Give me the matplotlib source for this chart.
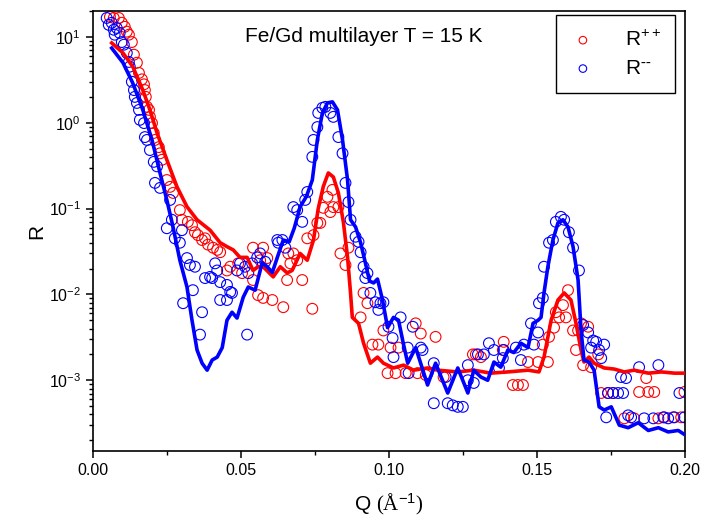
import matplotlib
matplotlib.use('Agg')
import matplotlib.pyplot as plt
from matplotlib.ticker import MultipleLocator, LogLocator, NullFormatter, FormatStrFormatter

plt.rcParams['font.family'] = ['Liberation Sans', 'DejaVu Sans']
plt.rcParams['mathtext.fontset'] = 'custom'
plt.rcParams['mathtext.rm'] = 'Liberation Serif'
plt.rcParams['mathtext.sf'] = 'Liberation Sans'
plt.rcParams['mathtext.it'] = 'Liberation Sans:italic'

# ── measured data: R++ (red) ─────────────────────────────────────────────────
q_pp = [0.0058, 0.0071, 0.0088, 0.0098, 0.0108, 0.0115, 0.0122, 0.0132, 0.0139, 0.0149,
        0.0156, 0.0166, 0.0173, 0.0176, 0.0179, 0.0183, 0.0190, 0.0193, 0.0200, 0.0206,
        0.0210, 0.0223, 0.0227, 0.0234, 0.0250, 0.0261, 0.0271, 0.0294, 0.0301, 0.0321,
        0.0335, 0.0345, 0.0355, 0.0369, 0.0379, 0.0389, 0.0406, 0.0420, 0.0430, 0.0464,
        0.0453, 0.0491, 0.0504, 0.0541, 0.0575, 0.0589, 0.0565, 0.0541, 0.0558, 0.0575,
        0.0606, 0.0643, 0.0660, 0.0677, 0.0690, 0.0667, 0.0656, 0.0707, 0.0741, 0.0724,
        0.0745, 0.0758, 0.0768, 0.0778, 0.0792, 0.0802, 0.0812, 0.0829, 0.0809, 0.0836,
        0.0853, 0.0863, 0.0904, 0.0914, 0.0927, 0.0981, 0.0944, 0.0964, 0.1005, 0.1032,
        0.0995, 0.1022, 0.1056, 0.1090, 0.1107, 0.1157, 0.1096, 0.1124, 0.1184, 0.1283,
        0.1293, 0.1310, 0.1387, 0.1384, 0.1418, 0.1435, 0.1452, 0.1469, 0.1503, 0.1536,
        0.1519, 0.1540, 0.1557, 0.1563, 0.1574, 0.1587, 0.1604, 0.1597, 0.1621, 0.1638,
        0.1648, 0.1672, 0.1631, 0.1655, 0.1682, 0.1706, 0.1716, 0.1739, 0.1756, 0.1844,
        0.1875, 0.1895, 0.1997, 0.1868, 0.1794, 0.1827, 0.1909, 0.1929, 0.1959, 0.1986]
r_pp = [17.1, 16.6, 16.6, 14.6, 13.1, 11.5, 10.6, 8.7, 6.2, 5.0,
        3.8, 3.2, 2.8, 2.4, 2.0, 1.53, 1.41, 1.17, 0.99, 0.76,
        0.63, 0.52, 0.44, 0.37, 0.215, 0.179, 0.152, 0.096, 0.074, 0.070,
        0.064, 0.053, 0.049, 0.043, 0.045, 0.038, 0.035, 0.033, 0.031, 0.021,
        0.019, 0.023, 0.0177, 0.035, 0.035, 0.0265, 0.025, 0.0147, 0.0098, 0.0091,
        0.0086, 0.0071, 0.030, 0.030, 0.025, 0.023, 0.0147, 0.0147, 0.0068, 0.045,
        0.049, 0.068, 0.068, 0.102, 0.137, 0.091, 0.104, 0.104, 0.165, 0.030,
        0.022, 0.035, 0.0054, 0.0104, 0.0079, 0.0038, 0.0026, 0.0026, 0.0024, 0.0024,
        0.00121, 0.00121, 0.00121, 0.0046, 0.0035, 0.0032, 0.00121, 0.00115, 0.00109, 0.0020,
        0.0020, 0.00186, 0.0028, 0.00225, 0.00088, 0.00088, 0.00088, 0.00163, 0.00163, 0.00163,
        0.0026, 0.0032, 0.0041, 0.0062, 0.0054, 0.0075, 0.0112, 0.0054, 0.0038, 0.0038,
        0.0046, 0.0042, 0.00225, 0.0015, 0.00142, 0.0020, 0.00071, 0.00071, 0.00071, 0.00073,
        0.00073, 0.00073, 0.00073, 0.00106, 0.00036, 0.00036, 0.00036, 0.00037, 0.00037, 0.00037]

# ── measured data: R-- (blue) ────────────────────────────────────────────────
q_mm = [0.0047, 0.0054, 0.0064, 0.0071, 0.0081, 0.0074, 0.0091, 0.0098, 0.0105, 0.0115,
        0.0122, 0.0125, 0.0132, 0.0139, 0.0142, 0.0149, 0.0156, 0.0159, 0.0173, 0.0176,
        0.0183, 0.0193, 0.0206, 0.0217, 0.0210, 0.0227, 0.0261, 0.0267, 0.0250, 0.0301,
        0.0277, 0.0294, 0.0318, 0.0328, 0.0345, 0.0305, 0.0338, 0.0369, 0.0362, 0.0413,
        0.0420, 0.0396, 0.0379, 0.0403, 0.0430, 0.0453, 0.0464, 0.0430, 0.0453, 0.0470,
        0.0487, 0.0497, 0.0514, 0.0525, 0.0521, 0.0538, 0.0555, 0.0565, 0.0582, 0.0623,
        0.0626, 0.0640, 0.0650, 0.0677, 0.0690, 0.0707, 0.0717, 0.0724, 0.0741, 0.0745,
        0.0758, 0.0761, 0.0775, 0.0785, 0.0802, 0.0812, 0.0829, 0.0843, 0.0853, 0.0863,
        0.0870, 0.0887, 0.0897, 0.0904, 0.0914, 0.0927, 0.0920, 0.0937, 0.0954, 0.0964,
        0.0971, 0.0981, 0.0998, 0.1012, 0.1015, 0.1039, 0.1063, 0.1066, 0.1080, 0.1107,
        0.1113, 0.1130, 0.1151, 0.1151, 0.1191, 0.1198, 0.1215, 0.1232, 0.1249, 0.1266,
        0.1266, 0.1286, 0.1300, 0.1320, 0.1337, 0.1354, 0.1371, 0.1387, 0.1384, 0.1428,
        0.1445, 0.1455, 0.1479, 0.1489, 0.1503, 0.1506, 0.1519, 0.1523, 0.1540, 0.1553,
        0.1563, 0.1580, 0.1591, 0.1607, 0.1621, 0.1641, 0.1655, 0.1672, 0.1689, 0.1699,
        0.1682, 0.1709, 0.1726, 0.1716, 0.1783, 0.1800, 0.1844, 0.1909, 0.1739, 0.1756,
        0.1773, 0.1790, 0.1980, 0.1733, 0.1807, 0.1817, 0.1861, 0.1892, 0.1926, 0.1942,
        0.1963, 0.1997]
r_mm = [16.6, 13.8, 14.6, 12.1, 12.7, 10.6, 11.1, 8.7, 8.1, 6.5,
        5.1, 4.5, 3.0, 2.4, 2.0, 1.70, 1.41, 1.08, 0.99, 0.68,
        0.63, 0.48, 0.35, 0.31, 0.199, 0.174, 0.126, 0.074, 0.059, 0.056,
        0.045, 0.040, 0.0265, 0.022, 0.021, 0.0079, 0.0112, 0.0062, 0.0034, 0.023,
        0.019, 0.0160, 0.0155, 0.0155, 0.0139, 0.0129, 0.0107, 0.0086, 0.0086, 0.0104,
        0.019, 0.023, 0.021, 0.0177, 0.0034, 0.023, 0.027, 0.030, 0.024, 0.043,
        0.040, 0.043, 0.035, 0.104, 0.096, 0.070, 0.126, 0.156, 0.40, 0.63,
        0.89, 1.30, 1.49, 1.53, 1.30, 1.17, 0.68, 0.44, 0.199, 0.119,
        0.074, 0.047, 0.041, 0.031, 0.021, 0.0177, 0.0155, 0.0104, 0.0081, 0.0066,
        0.0079, 0.0081, 0.0042, 0.0031, 0.00186, 0.0054, 0.0024, 0.00121, 0.0042, 0.0024,
        0.00225, 0.00121, 0.00158, 0.00054, 0.00109, 0.00054, 0.00051, 0.00049, 0.00049, 0.0015,
        0.00100, 0.00093, 0.0020, 0.0020, 0.0027, 0.00225, 0.00139, 0.00225, 0.00181, 0.0024,
        0.00172, 0.0026, 0.0046, 0.0026, 0.0036, 0.0079, 0.0091, 0.021, 0.040, 0.043,
        0.070, 0.080, 0.074, 0.053, 0.035, 0.019, 0.0044, 0.0036, 0.0029, 0.0028,
        0.0024, 0.00225, 0.0026, 0.00181, 0.00109, 0.00106, 0.00142, 0.0015, 0.00071, 0.00071,
        0.00071, 0.00071, 0.00071, 0.00037, 0.00039, 0.00037, 0.00036, 0.00036, 0.00037, 0.00036,
        0.00037, 0.00037]

# ── fits ─────────────────────────────────────────────────────────────────────
q_fit_pp = [0.0064, 0.0102, 0.0135, 0.0169, 0.0193, 0.0217, 0.0250, 0.0284, 0.0318, 0.0352,
            0.0396, 0.0430, 0.0453, 0.0474, 0.0497, 0.0521, 0.0541, 0.0558, 0.0575, 0.0609,
            0.0633, 0.0656, 0.0673, 0.0700, 0.0724, 0.0745, 0.0761, 0.0778, 0.0795, 0.0812,
            0.0829, 0.0846, 0.0860, 0.0870, 0.0876, 0.0897, 0.0914, 0.0937, 0.0961, 0.0981,
            0.1015, 0.1049, 0.1083, 0.1130, 0.1164, 0.1198, 0.1232, 0.1286, 0.1343, 0.1401,
            0.1469, 0.1506, 0.1523, 0.1547, 0.1570, 0.1591, 0.1614, 0.1631, 0.1648, 0.1658,
            0.1675, 0.1692, 0.1726, 0.1760, 0.1794, 0.1827, 0.1875, 0.1919, 0.1963, 0.2000]
r_fit_pp = [8.5, 6.5, 4.5, 2.4, 1.41, 0.76, 0.37, 0.18, 0.105, 0.074,
            0.056, 0.040, 0.036, 0.033, 0.027, 0.027, 0.019, 0.021, 0.021, 0.016,
            0.021, 0.0178, 0.019, 0.030, 0.025, 0.043, 0.10, 0.18, 0.26, 0.233,
            0.152, 0.069, 0.027, 0.0104, 0.0054, 0.0046, 0.0027, 0.00158, 0.00186, 0.00158,
            0.00139, 0.0015, 0.00131, 0.00139, 0.00131, 0.00128, 0.00125, 0.00131, 0.00121, 0.00125,
            0.00131, 0.00125, 0.00186, 0.0050, 0.0086, 0.0104, 0.0086, 0.0046, 0.00225, 0.00163,
            0.00186, 0.00158, 0.00139, 0.00135, 0.00125, 0.00131, 0.00121, 0.00125, 0.00121, 0.00121]

q_fit_mm = [0.0064, 0.0102, 0.0135, 0.0169, 0.0200, 0.0227, 0.0250, 0.0271, 0.0294, 0.0318,
            0.0335, 0.0352, 0.0369, 0.0386, 0.0403, 0.0420, 0.0437, 0.0453, 0.0470, 0.0487,
            0.0508, 0.0525, 0.0548, 0.0572, 0.0589, 0.0606, 0.0623, 0.0643, 0.0663, 0.0680,
            0.0700, 0.0721, 0.0741, 0.0758, 0.0775, 0.0792, 0.0809, 0.0826, 0.0843, 0.0860,
            0.0870, 0.0887, 0.0904, 0.0920, 0.0934, 0.0948, 0.0961, 0.0978, 0.0995, 0.1015,
            0.1032, 0.1049, 0.1063, 0.1090, 0.1130, 0.1157, 0.1198, 0.1232, 0.1266, 0.1286,
            0.1310, 0.1333, 0.1354, 0.1377, 0.1401, 0.1421, 0.1445, 0.1469, 0.1486, 0.1503,
            0.1513, 0.1523, 0.1536, 0.1553, 0.1570, 0.1587, 0.1604, 0.1621, 0.1638, 0.1648,
            0.1658, 0.1675, 0.1692, 0.1709, 0.1726, 0.1750, 0.1777, 0.1807, 0.1841, 0.1875,
            0.1909, 0.1942, 0.1976, 0.2000]
r_fit_mm = [7.4, 5.0, 2.9, 1.41, 0.63, 0.26, 0.126, 0.061, 0.025, 0.0122,
            0.0050, 0.00225, 0.00158, 0.00131, 0.00172, 0.00186, 0.0024, 0.0050, 0.0062, 0.0053,
            0.0093, 0.0122, 0.0112, 0.0234, 0.021, 0.018, 0.027, 0.043, 0.041, 0.059,
            0.105, 0.138, 0.215, 0.63, 1.30, 1.70, 1.75, 1.41, 0.63, 0.215,
            0.074, 0.061, 0.040, 0.0234, 0.0143, 0.0136, 0.0151, 0.0086, 0.0041, 0.0054,
            0.0050, 0.0026, 0.00158, 0.0024, 0.00088, 0.00158, 0.00071, 0.00139, 0.00071, 0.00131,
            0.00109, 0.00100, 0.00163, 0.00142, 0.00225, 0.0021, 0.0027, 0.0024, 0.0046, 0.0050,
            0.0054, 0.0104, 0.021, 0.043, 0.068, 0.074, 0.061, 0.036, 0.0147, 0.0038,
            0.00172, 0.00163, 0.00131, 0.00049, 0.00045, 0.00049, 0.00030, 0.00028, 0.00032, 0.00026,
            0.00028, 0.00025, 0.00026, 0.00023]

fig = plt.figure(figsize=(7.08, 5.25), dpi=100)
ax = fig.add_axes([0.131, 0.141, 0.837, 0.838])

ax.scatter(q_pp, r_pp, s=60, facecolors='none', edgecolors='#ff0000', linewidths=0.8,
           label=r'R$^{\mathdefault{++}}$', zorder=2)
ax.scatter(q_mm, r_mm, s=60, facecolors='none', edgecolors='#0000ff', linewidths=0.8,
           label=r'R$^{\mathdefault{\text{--}}}$', zorder=2)
ax.plot(q_fit_pp, r_fit_pp, color='#ff0000', lw=2.6, zorder=3)
ax.plot(q_fit_mm, r_fit_mm, color='#0000ff', lw=2.6, zorder=4)

ax.set_yscale('log')
ax.set_xlim(0, 0.2)
ax.set_ylim(1.5e-4, 20)
ax.xaxis.set_major_locator(MultipleLocator(0.05))
ax.xaxis.set_minor_locator(MultipleLocator(0.025))
ax.xaxis.set_major_formatter(FormatStrFormatter('%.2f'))
ax.yaxis.set_major_locator(LogLocator(base=10, numticks=10))
ax.yaxis.set_minor_locator(LogLocator(base=10, subs=range(2, 10), numticks=20))
ax.yaxis.set_minor_formatter(NullFormatter())

ax.tick_params(which='major', direction='out', length=5, width=1.1, labelsize=11.5)
ax.tick_params(which='minor', direction='out', length=3, width=1.0)
for s in ax.spines.values():
    s.set_linewidth(1.2)

ax.set_xlabel(r'$\mathsf{Q}\ \mathrm{(\AA^{\mathsf{-1}})}$', fontsize=15, labelpad=10)
ax.set_ylabel('R', fontsize=15, labelpad=2)

ax.text(0.0916, 10, 'Fe/Gd multilayer T = 15 K', fontsize=15, ha='center', va='center')

leg = ax.legend(loc='upper right', bbox_to_anchor=(0.983, 0.991), borderaxespad=0,
                fontsize=15, markerscale=0.7, handlelength=1.2, handletextpad=1.4,
                labelspacing=0.45, borderpad=0.7,
                fancybox=False, edgecolor='black', framealpha=1)
leg.get_frame().set_linewidth(1.0)

plt.savefig('out.png', dpi=100, facecolor='white')
plt.close()
